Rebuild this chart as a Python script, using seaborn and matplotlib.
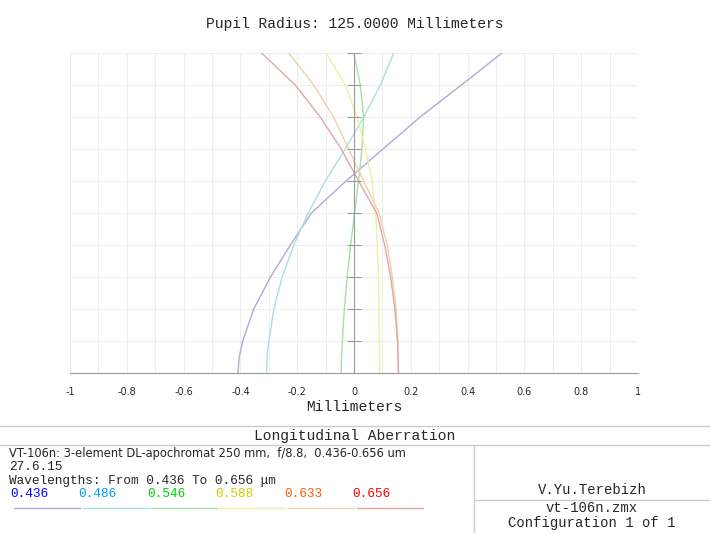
import matplotlib
matplotlib.use("Agg")
import matplotlib.pyplot as plt
import seaborn as sns
import pandas as pd
import numpy as np

pupil = [0.0, 0.05, 0.1, 0.2, 0.3, 0.4, 0.5, 0.6, 0.7, 0.8, 0.9, 1.0]
w436 = [-0.409, -0.404, -0.392, -0.353, -0.294, -0.224, -0.150, -0.028, 0.102, 0.233, 0.378, 0.521]
w486 = [-0.308, -0.306, -0.300, -0.282, -0.253, -0.212, -0.161, -0.101, -0.031, 0.034, 0.093, 0.140]
w546 = [-0.045, -0.044, -0.041, -0.034, -0.024, -0.012, 0.002, 0.016, 0.028, 0.034, 0.022, 0.000]
w588 = [0.090, 0.090, 0.089, 0.088, 0.086, 0.082, 0.076, 0.064, 0.040, 0.011, -0.031, -0.098]
w633 = [0.157, 0.156, 0.155, 0.148, 0.135, 0.117, 0.088, 0.034, -0.019, -0.072, -0.142, -0.230]
w656 = [0.156, 0.155, 0.153, 0.144, 0.129, 0.108, 0.080, 0.016, -0.045, -0.119, -0.207, -0.325]
wl_labels = ["0.436", "0.486", "0.546", "0.588", "0.633", "0.656"]
line_colors = ["#b3a8d8", "#a8e0e0", "#a8e0a8", "#f0f0a0", "#f0d0a8", "#e0a8a8"]
text_colors = ["#0000ff", "#00a0e0", "#00d000", "#d0d000", "#ff6000", "#ff0000"]
xtick_vals = [round(v, 1) + 0.0 for v in np.arange(-1, 1.01, 0.1)]

sns.set_style("white")
mono = "Liberation Mono"

series = [w436, w486, w546, w588, w633, w656]
df = pd.concat([pd.DataFrame({"x": s, "pupil": pupil, "wl": lab}) for s, lab in zip(series, wl_labels)])

fig = plt.figure(figsize=(7.1, 5.33), dpi=100)
ax = fig.add_axes([70/710, 1-373/533, 568/710, 320/533])
sns.lineplot(data=df, x="x", y="pupil", hue="wl", palette=line_colors, sort=False,
             estimator=None, ax=ax, legend=False, linewidth=1.0)
ax.set_xlim(-1, 1)
ax.set_ylim(0, 1)
ax.set_xticks(xtick_vals)
def fmt(t):
    if round(t*10) % 2 != 0:
        return ""
    return "0" if abs(t) < 1e-9 else "%g" % t
ax.set_xticklabels([fmt(t) for t in xtick_vals], fontsize=7, fontfamily="DejaVu Sans")
ax.set_yticks(np.arange(0, 1.01, 0.1))
ax.set_yticklabels([])
ax.tick_params(axis="x", length=4, color="#888888", pad=6)
ax.tick_params(axis="y", length=0)
ax.grid(True, color="#eeeeee", linewidth=0.8)
for s in ["top", "right", "left"]:
    ax.spines[s].set_visible(False)
ax.spines["bottom"].set_color("#999999")
ax.axvline(0, color="#999999", linewidth=0.8)
ax.plot(np.zeros(10), np.arange(0.1, 1.01, 0.1), linestyle="none", marker="_",
        markersize=10, color="#999999", markeredgewidth=0.8)
ax.set_xlabel("Millimeters", fontsize=10.5, fontfamily=mono, labelpad=2)
ax.set_ylabel("")
fig.text(0.5, 1-24/533, "Pupil Radius: 125.0000 Millimeters", ha="center", va="center",
         fontsize=10.5, fontfamily=mono)

def hline(y, x0=0, x1=710):
    fig.add_artist(plt.Line2D([x0/710, x1/710], [1-y/533, 1-y/533], color="#cccccc", lw=1))
def vline(x, y0, y1):
    fig.add_artist(plt.Line2D([x/710, x/710], [1-y0/533, 1-y1/533], color="#cccccc", lw=1))
hline(426); hline(445); hline(500, 474, 710)
vline(474, 445, 533)
fig.text(355/710, 1-436/533, "Longitudinal Aberration", ha="center", va="center", fontsize=10.5, fontfamily=mono)
fig.text(9/710, 1-454/533, "VT-106n: 3-element DL-apochromat 250 mm,  f/8.8,  0.436-0.656 um",
         va="center", fontsize=8.3, fontfamily="Liberation Sans Narrow")
fig.text(9/710, 1-467/533, "27.6.15", va="center", fontsize=9.2, fontfamily=mono)
fig.text(9/710, 1-481/533, "Wavelengths: From 0.436 To 0.656 μm", va="center", fontsize=9.2, fontfamily=mono)
for i, (lab, c, lc) in enumerate(zip(wl_labels, text_colors, line_colors)):
    x0 = 10 + i*68.5
    fig.text(x0/710, 1-494/533, lab, va="center", fontsize=9.2, fontfamily=mono, color=c)
    fig.add_artist(plt.Line2D([(x0+4)/710, (x0+70)/710], [1-508/533]*2, color=lc, lw=1))
fig.text(592/710, 1-490/533, "V.Yu.Terebizh", ha="center", va="center", fontsize=10, fontfamily=mono)
fig.text(592/710, 1-508/533, "vt-106n.zmx", ha="center", va="center", fontsize=10, fontfamily=mono)
fig.text(592/710, 1-523/533, "Configuration 1 of 1", ha="center", va="center", fontsize=10, fontfamily=mono)
fig.savefig("out.png", dpi=100)
